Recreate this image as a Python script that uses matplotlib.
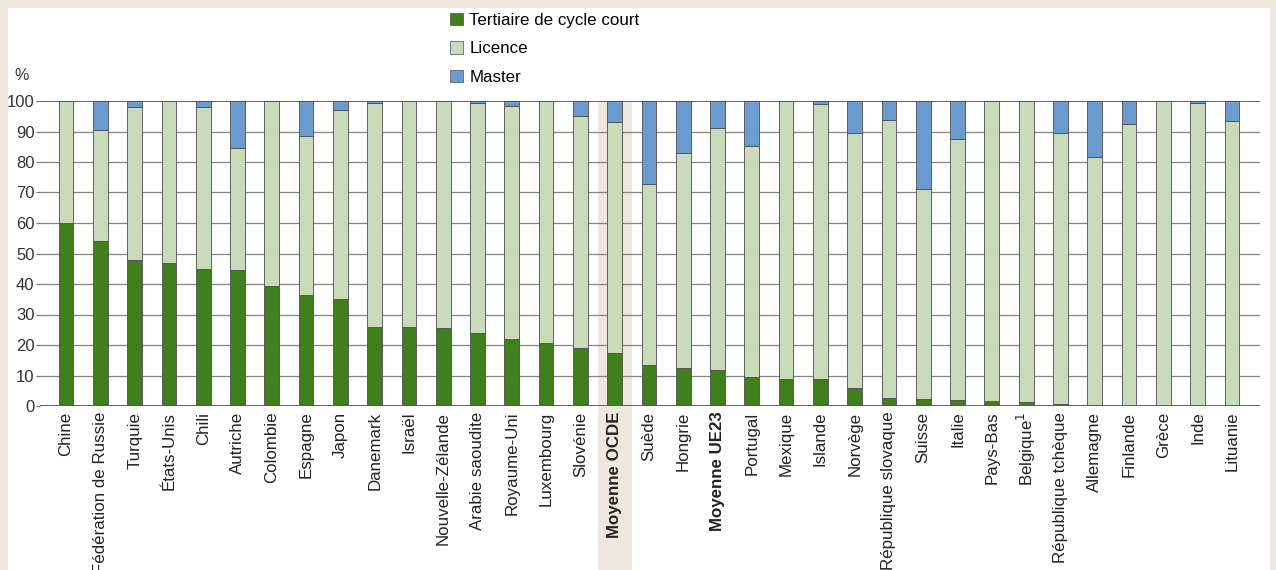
# plot.py
# Répartition des diplômés du tertiaire par niveau (%)
import matplotlib.pyplot as plt
from matplotlib.patches import Patch, Rectangle
import numpy as np

pays = ['Chine', 'Fédération de Russie', 'Turquie', 'États-Unis', 'Chili', 'Autriche',
        'Colombie', 'Espagne', 'Japon', 'Danemark', 'Israël', 'Nouvelle-Zélande',
        'Arabie saoudite', 'Royaume-Uni', 'Luxembourg', 'Slovénie', 'Moyenne OCDE',
        'Suède', 'Hongrie', 'Moyenne UE23', 'Portugal', 'Mexique', 'Islande', 'Norvège',
        'République slovaque', 'Suisse', 'Italie', 'Pays-Bas', 'Belgique$^1$',
        'République tchèque', 'Allemagne', 'Finlande', 'Grèce', 'Inde', 'Lituanie']

cycle_court = [60, 54, 48, 47, 45, 44.5, 39.5, 36.5, 35, 26, 26, 25.5, 24, 22, 20.5,
               19, 17.5, 13.5, 12.5, 11.7, 9.5, 9, 8.7, 6, 2.7, 2.2, 2, 1.8, 1.2, 0.8,
               0.3, 0, 0, 0, 0]
licence = [40, 36.5, 50, 53, 53, 40, 60.5, 52, 62, 73.3, 74, 74.5, 75.3, 76.5, 79.5,
           76, 75.5, 59.2, 70.5, 79.6, 75.7, 91, 90.3, 83.5, 91.1, 68.8, 85.5, 98.2,
           98.8, 88.7, 81.2, 92.5, 100, 99.3, 93.5]
master = [0, 9.5, 2, 0, 2, 15.5, 0, 11.5, 3, 0.7, 0, 0, 0.7, 1.5, 0, 5, 7, 27.3, 17,
          8.7, 14.8, 0, 1, 10.5, 6.2, 29, 12.5, 0, 0, 10.5, 18.5, 7.5, 0, 0.7, 6.5]

gras = ['Moyenne OCDE', 'Moyenne UE23']

plt.rcParams['font.family'] = ['Liberation Sans', 'DejaVu Sans']

c_court = '#3f7f1c'
c_lic = '#c9dbbb'
c_mast = '#6c9bd2'
beige = '#ece8dd'

W, H = 1276, 570
fig = plt.figure(figsize=(W / 100, H / 100), dpi=100)
fig.patch.set_facecolor(beige)
fig.patches.append(Rectangle((8 / W, 0), (W - 14) / W, (H - 8) / H,
                             transform=fig.transFigure, facecolor='white',
                             edgecolor='none', zorder=-5))

ax = fig.add_axes([40 / W, 164 / H, (1260 - 40) / W, 305 / H])
ax.set_facecolor('none')
ax.set_zorder(2)

x = np.arange(len(pays))
bw = 0.43
court = np.array(cycle_court)
lic = np.array(licence)
mast = np.array(master)

# colonne grisée derrière la moyenne OCDE
i_ocde = pays.index('Moyenne OCDE')
ax.add_patch(Rectangle((i_ocde - 0.5, -200), 1.0, 300, facecolor=beige,
                       edgecolor='none', zorder=0.5, clip_on=False))

kw = dict(width=bw, edgecolor='#4d4d4d', linewidth=0.6, zorder=3)
ax.bar(x, court, color=c_court, **kw)
ax.bar(x, lic, bottom=court, color=c_lic, **kw)
ax.bar(x, mast, bottom=court + lic, color=c_mast, **kw)

ax.set_xlim(-0.76, 34.82)
ax.set_ylim(0, 100)
ax.set_yticks(range(0, 101, 10))
for v in range(10, 100, 10):
    ax.axhline(v, color='#858585', linewidth=0.9, zorder=1)
ax.axhline(0, color='#555555', linewidth=1.3, zorder=4)
ax.axhline(100, color='#555555', linewidth=1.3, zorder=4)

for s in ax.spines.values():
    s.set_visible(False)
ax.tick_params(axis='y', length=3, width=0.9, color='#777777', labelsize=12,
               labelcolor='#333333', pad=1)
ax.tick_params(axis='x', length=0, pad=4)
ax.set_xticks(x)
ax.set_xticklabels(pays, rotation=90, fontsize=12.2, color='#222222', va='top')
for lab in ax.get_xticklabels():
    if lab.get_text() in gras:
        lab.set_fontweight('bold')

fig.text(14 / W, 1 - 76 / H, '%', fontsize=11.5, color='#333333', va='center', ha='left')

handles = [Patch(facecolor=c_court, edgecolor='#4d4d4d', linewidth=0.5),
           Patch(facecolor=c_lic, edgecolor='#4d4d4d', linewidth=0.5),
           Patch(facecolor=c_mast, edgecolor='#4d4d4d', linewidth=0.5)]
fig.legend(handles, ['Tertiaire de cycle court', 'Licence', 'Master'],
           loc='upper left', bbox_to_anchor=(450 / W, 1 - 13 / H), frameon=False,
           fontsize=12.2, handlelength=0.75, handleheight=0.75, handletextpad=0.4,
           labelspacing=0.78, borderpad=0, borderaxespad=0)

fig.savefig('out.png', dpi=100, facecolor=fig.get_facecolor())
